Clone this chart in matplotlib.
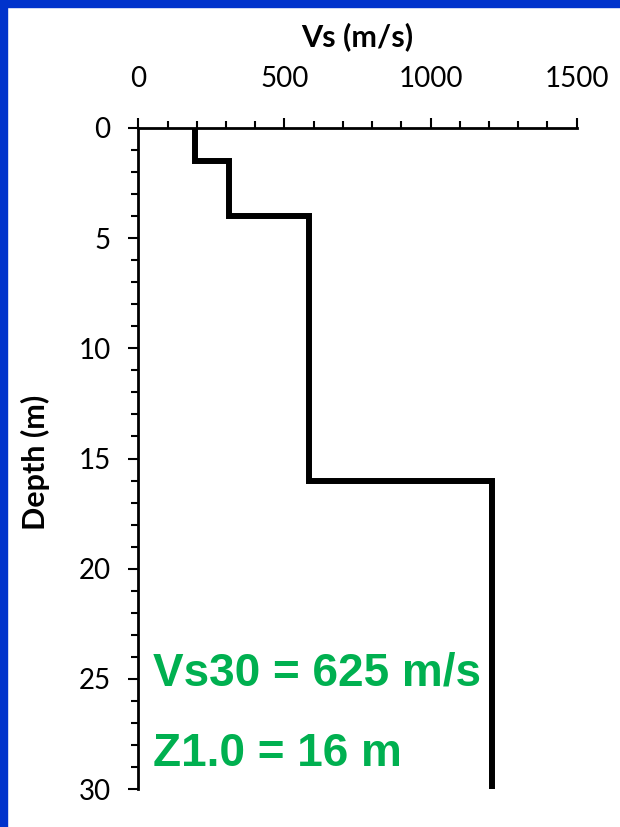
import numpy as np
import matplotlib
matplotlib.use("Agg")
import matplotlib.pyplot as plt
from matplotlib.patches import Rectangle

# layered Vs profile
layer_top = [0, 1.5, 4, 16]
layer_bottom = [1.5, 4, 16, 30]
vs = [195, 310, 583, 1210]

vs30_text = "Vs30 = 625 m/s"
z1_text = "Z1.0 = 16 m"

x_ticks = [0, 500, 1000, 1500]
y_ticks = [0, 5, 10, 15, 20, 25, 30]

# step line: each layer is a vertical segment, joined by horizontal steps
xs = np.repeat(vs, 2)
ys = np.ravel(np.column_stack([layer_top, layer_bottom]))

plt.rcParams['font.family'] = ['Lato', 'DejaVu Sans']

fig = plt.figure(figsize=(6.2, 8.27), dpi=100)
fig.patch.set_facecolor('white')

# blue frame on top and left edge
blue = '#0033cc'
fig.patches.append(Rectangle((0, 1 - 7/827), 1, 7/827, transform=fig.transFigure,
                             color=blue, zorder=0))
fig.patches.append(Rectangle((0, 0), 7/620, 1, transform=fig.transFigure,
                             color=blue, zorder=0))

ax = fig.add_axes([138.3/620, 1 - 789/827, (576.7-138.3)/620, (789-128)/827])
ax.plot(xs, ys, color='black', linewidth=4.3, solid_joinstyle='miter', zorder=3)

ax.set_xlim(0, 1500)
ax.set_ylim(30, 0)
ax.xaxis.tick_top()
ax.set_xticks(x_ticks)
ax.set_yticks(y_ticks)
ax.set_xticks(np.arange(0, 1501, 100), minor=True)
ax.set_yticks(np.arange(0, 31, 1), minor=True)

for s in ['right', 'bottom']:
    ax.spines[s].set_visible(False)
for s in ['top', 'left']:
    ax.spines[s].set_linewidth(2)

ax.tick_params(axis='both', which='major', direction='out', length=7, width=1.5,
               labelsize=20)
ax.tick_params(axis='both', which='minor', direction='out', length=5, width=1.5)
ax.tick_params(axis='x', which='major', pad=19)
ax.tick_params(axis='y', which='major', pad=13)

fig.text(357.5/620, 1 - 37/827, "Vs (m/s)", ha='center', va='center',
         fontsize=22, fontweight='bold')
fig.text(35/620, 1 - 462/827, "Depth (m)", ha='center', va='center',
         rotation=90, fontsize=22, fontweight='bold')

green = '#00b050'
ax.text(50, 25.28, vs30_text, color=green, fontsize=33, fontweight='bold',
        family='Liberation Sans', ha='left', va='baseline')
ax.text(50, 28.96, z1_text, color=green, fontsize=33, fontweight='bold',
        family='Liberation Sans', ha='left', va='baseline')

fig.savefig('out.png', dpi=100)
